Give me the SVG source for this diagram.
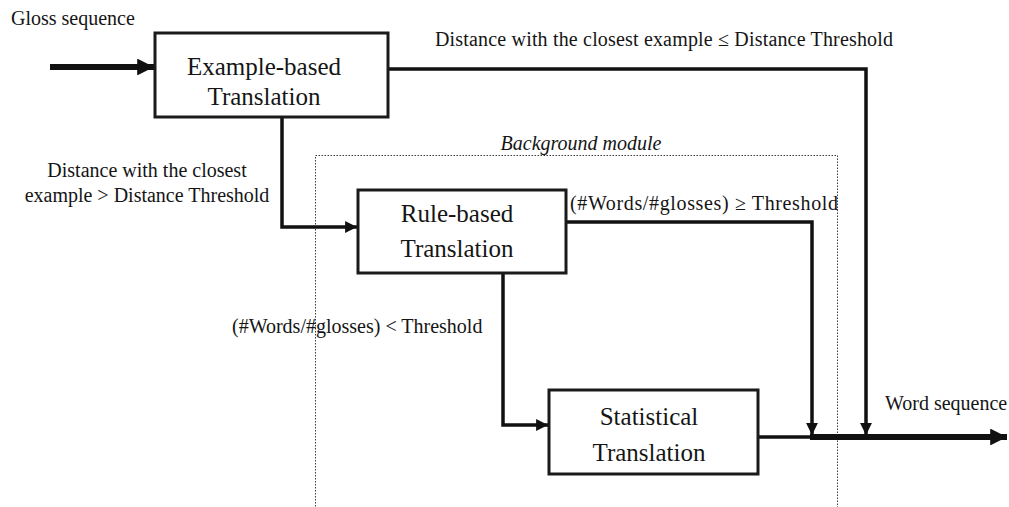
<svg xmlns="http://www.w3.org/2000/svg" width="1009" height="507" viewBox="0 0 1009 507">
  <style>
    text { font-family: "Liberation Serif", Tinos, "Times New Roman", "DejaVu Serif", serif; fill: #151515; }
    .box { fill: #ffffff; stroke: #1a1a1a; stroke-width: 3; }
    .title { font-size: 25px; text-anchor: middle; }
    .lbl { font-size: 20px; }
    .wire { fill: none; stroke: #111; stroke-width: 3.5; stroke-linejoin: miter; }
    .thick { fill: none; stroke: #111; stroke-width: 6; }
    .module { fill: none; stroke: #3a3a3a; stroke-width: 1; stroke-dasharray: 1.5 1.5; }
  </style>
  <defs>
    <marker id="head" viewBox="0 0 10 10" refX="10" refY="5" markerWidth="3.6" markerHeight="3.4" markerUnits="strokeWidth" orient="auto">
      <path d="M0,0 L10,5 L0,10 z" fill="#111"/>
    </marker>
    <marker id="headBig" viewBox="0 0 10 10" refX="10" refY="5" markerWidth="2.8" markerHeight="2.8" markerUnits="strokeWidth" orient="auto">
      <path d="M0,0 L10,5 L0,10 z" fill="#111"/>
    </marker>
  </defs>

  <!-- dotted frame around the background stages -->
  <g id="background-module">
    <rect class="module" x="315.5" y="155.5" width="522" height="360"/>
    <text class="lbl" x="581" y="150" text-anchor="middle" font-style="italic">Background module</text>
  </g>

  <g id="connectors">
    <!-- input -->
    <line class="thick" x1="50" y1="67" x2="154" y2="67" marker-end="url(#headBig)"/>
    <!-- example-based straight to output -->
    <polyline class="wire" points="388,69 866,69 866,435" marker-end="url(#head)"/>
    <!-- example-based to rule-based -->
    <polyline class="wire" points="282,117 282,227 357,227" marker-end="url(#head)"/>
    <!-- rule-based to output -->
    <polyline class="wire" points="566,222 812,222 812,435" marker-end="url(#head)"/>
    <!-- rule-based to statistical -->
    <polyline class="wire" points="503,273 503,425 548,425" marker-end="url(#head)"/>
    <!-- statistical to output -->
    <line class="wire" x1="758" y1="437" x2="812" y2="437"/>
    <line class="thick" x1="810" y1="437" x2="1007" y2="437" marker-end="url(#headBig)"/>
  </g>

  <g id="example-based">
    <rect class="box" x="155" y="33" width="233" height="84"/>
    <text class="title" x="264" y="75">Example-based</text>
    <text class="title" x="264" y="105">Translation</text>
  </g>

  <g id="rule-based">
    <rect class="box" x="358" y="190" width="208" height="83"/>
    <text class="title" x="457" y="222">Rule-based</text>
    <text class="title" x="457" y="257">Translation</text>
  </g>

  <g id="statistical">
    <rect class="box" x="549" y="390" width="209" height="84"/>
    <text class="title" x="649" y="425">Statistical</text>
    <text class="title" x="649" y="461">Translation</text>
  </g>

  <g id="labels">
    <text class="lbl" x="11" y="25">Gloss sequence</text>
    <text class="lbl" x="435" y="46" textLength="458" lengthAdjust="spacing">Distance with the closest example ≤ Distance Threshold</text>
    <text class="lbl" x="147" y="177" text-anchor="middle">Distance with the closest</text>
    <text class="lbl" x="147" y="202" text-anchor="middle">example &gt; Distance Threshold</text>
    <text class="lbl" x="570" y="210" textLength="268" lengthAdjust="spacing">(#Words/#glosses) ≥  Threshold</text>
    <text class="lbl" x="232" y="333">(#Words/#glosses) &lt; Threshold</text>
    <text class="lbl" x="885" y="410">Word sequence</text>
  </g>
</svg>
